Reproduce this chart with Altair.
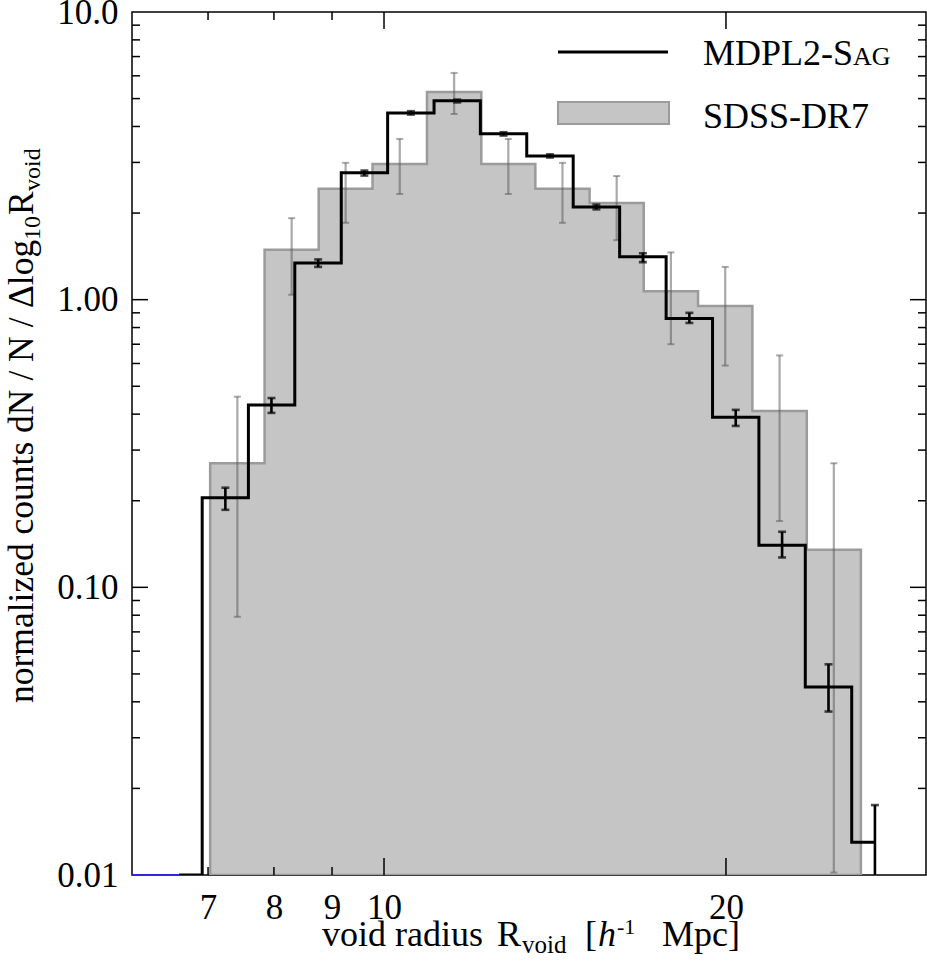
import math
import altair as alt
import pandas as pd

# ---------------------------------------------------------------------------
# Void size function: simulated (MDPL2-SAG) vs observed (SDSS-DR7)
# ---------------------------------------------------------------------------

# MDPL2-SAG: bin centres [h^-1 Mpc], normalised counts and 1-sigma range
mdpl2_r = [6.60, 7.25, 7.96, 8.75, 9.61, 10.56, 11.60, 12.74, 14.00,
           15.38, 16.90, 18.57, 20.40, 22.41, 24.62, 27.05]
mdpl2_n = [0.01, 0.205, 0.43, 1.34, 2.76, 4.46, 4.91, 3.77, 3.16,
           2.10, 1.41, 0.86, 0.39, 0.14, 0.045, 0.013]
mdpl2_lo = [None, 0.186, 0.404, 1.30, 2.70, 4.40, 4.85, 3.72, 3.12,
            2.06, 1.35, 0.83, 0.364, 0.127, 0.037, 0.005]
mdpl2_hi = [None, 0.222, 0.455, 1.38, 2.81, 4.52, 4.96, 3.82, 3.20,
            2.14, 1.45, 0.90, 0.414, 0.156, 0.054, 0.0175]

# SDSS-DR7: bin edges [h^-1 Mpc], normalised counts and 1-sigma range
sdss_edges = [7.03, 7.85, 8.76, 9.77, 10.91, 12.18, 13.59, 15.17,
              16.93, 18.90, 21.10, 23.56, 26.29]
sdss_n = [0.27, 1.49, 2.43, 2.96, 5.27, 2.96, 2.43, 2.17, 1.07, 0.95, 0.41, 0.135]
sdss_lo = [0.079, 1.04, 1.85, 2.33, 4.42, 2.33, 1.85, 1.61, 0.70, 0.59, 0.17, 0.0102]
sdss_hi = [0.46, 1.92, 2.99, 3.62, 6.14, 3.62, 2.99, 2.69, 1.46, 1.30, 0.64, 0.27]

# flat segment lying on the lower frame edge at small radii
floor_r = [6.0, 6.65]
floor_n = [0.01, 0.01]

# axis ticks
x_major = [10, 20]
x_minor = [7, 8, 9]
y_major = [0.1, 1.0]
y_minor = [m * d for d in (0.01, 0.1, 1.0) for m in range(2, 10)]
x_labels = [7, 8, 9, 10, 20]
y_labels = [0.01, 0.1, 1.0, 10.0]

W, H = 794, 863
SERIF = "Liberation Serif"
GREY_FILL = "#c5c5c5"
GREY_EDGE = "#9b9b9b"

xscale = alt.Scale(type="log", domain=[6, 30], nice=False)
yscale = alt.Scale(type="log", domain=[0.01, 10], nice=False)

x_axis = alt.Axis(values=x_labels, format="d", ticks=False, domain=False, grid=False,
                  labelFont=SERIF, labelFontSize=35, labelColor="black",
                  labelPadding=15, labelFlush=False, labelOverlap=False, title=None)
y_axis = alt.Axis(values=y_labels, ticks=False, domain=False, grid=False,
                  labelExpr="datum.value >= 10 ? '10.0' : format(datum.value, '.2f')",
                  labelFont=SERIF, labelFontSize=35, labelColor="black",
                  labelPadding=14, labelFlush=False, labelOverlap=False, title=None)


def X(field):
    return alt.X(f"{field}:Q", scale=xscale, axis=x_axis)


def Y(field):
    return alt.Y(f"{field}:Q", scale=yscale, axis=y_axis)


# ---------------------------------------------------------------------------
# tables
# ---------------------------------------------------------------------------
step_rows = [{"r": sdss_edges[i], "n": sdss_n[i], "base": 0.01} for i in range(len(sdss_n))]
step_rows.append({"r": sdss_edges[-1], "n": sdss_n[-1], "base": 0.01})
sdss_step = pd.DataFrame(step_rows)

sdss_err = pd.DataFrame({
    "r": [math.sqrt(sdss_edges[i] * sdss_edges[i + 1]) for i in range(len(sdss_n))],
    "lo": sdss_lo,
    "hi": sdss_hi,
})

mdpl2_line = pd.DataFrame({"r": mdpl2_r, "n": mdpl2_n})
mdpl2_err = pd.DataFrame({"r": mdpl2_r, "lo": mdpl2_lo, "hi": mdpl2_hi}).dropna()

floor_df = pd.DataFrame({"r": floor_r, "n": floor_n})

# ---------------------------------------------------------------------------
# data layers
# ---------------------------------------------------------------------------
sdss_area = alt.Chart(sdss_step).mark_area(
    interpolate="step-after", color=GREY_FILL, fillOpacity=1,
    stroke=GREY_EDGE, strokeWidth=2.5, clip=True,
).encode(x=X("r"), y=Y("n"), y2="base:Q")

ERR_GREY = dict(color="#555555", opacity=0.5, clip=True)
sdss_bars = alt.Chart(sdss_err).mark_rule(strokeWidth=2.2, **ERR_GREY).encode(
    x=X("r"), y=Y("lo"), y2="hi:Q"
)
sdss_cap_lo = alt.Chart(sdss_err).mark_tick(
    orient="horizontal", size=7, thickness=2, **ERR_GREY
).encode(x=X("r"), y=Y("lo"))
sdss_cap_hi = alt.Chart(sdss_err).mark_tick(
    orient="horizontal", size=7, thickness=2, **ERR_GREY
).encode(x=X("r"), y=Y("hi"))

floor_line = alt.Chart(floor_df).mark_line(color="#2b2bd6", strokeWidth=2, clip=True).encode(
    x=X("r"), y=Y("n")
)

mdpl2_step = alt.Chart(mdpl2_line).mark_line(
    interpolate="step", color="black", strokeWidth=3, clip=True
).encode(x=X("r"), y=Y("n"))

mdpl2_bars = alt.Chart(mdpl2_err).mark_rule(color="black", strokeWidth=2.6, clip=True).encode(
    x=X("r"), y=Y("lo"), y2="hi:Q"
)
mdpl2_cap_lo = alt.Chart(mdpl2_err).mark_tick(
    orient="horizontal", color="black", size=8, thickness=2.6, clip=True
).encode(x=X("r"), y=Y("lo"))
mdpl2_cap_hi = alt.Chart(mdpl2_err).mark_tick(
    orient="horizontal", color="black", size=8, thickness=2.6, clip=True
).encode(x=X("r"), y=Y("hi"))


# ---------------------------------------------------------------------------
# inward-pointing ticks on all four sides
# ---------------------------------------------------------------------------
def x_ticks(vals, length, top):
    y0 = 0 if top else H
    y1 = length if top else H - length
    return alt.Chart(pd.DataFrame({"r": vals})).mark_rule(color="black", strokeWidth=1.5).encode(
        x=X("r"), y=alt.value(y0), y2=alt.value(y1)
    )


def y_ticks(vals, length, right):
    x0 = W if right else 0
    x1 = W - length if right else length
    return alt.Chart(pd.DataFrame({"n": vals})).mark_rule(color="black", strokeWidth=1.5).encode(
        y=Y("n"), x=alt.value(x0), x2=alt.value(x1)
    )


tick_layers = [
    x_ticks(x_major, 17, False), x_ticks(x_minor, 8, False),
    x_ticks(x_major, 17, True), x_ticks(x_minor, 8, True),
    y_ticks(y_major, 16, False), y_ticks(y_minor, 8, False),
    y_ticks(y_major, 16, True), y_ticks(y_minor, 8, True),
]

# ---------------------------------------------------------------------------
# titles and legend (rich text built from pieces)
# ---------------------------------------------------------------------------
one = pd.DataFrame({"k": [0]})


def label(text, x, y, size, angle=0, style="normal"):
    return alt.Chart(one).mark_text(
        text=text, align="left", baseline="alphabetic", font=SERIF,
        fontSize=size, fontStyle=style, angle=angle, color="black",
    ).encode(x=alt.value(x), y=alt.value(y))


x_title = [
    label("void radius", 190, 934, 36),
    label("R", 365, 934, 36),
    label("void", 390, 941, 25),
    label("[", 453, 934, 36),
    label("h", 466, 934, 36, style="italic"),
    label("-1", 485, 922, 22),
    label("Mpc]", 530, 934, 36),
]

y_title = [
    label("normalized counts dN / N /", -99, 691, 35.5, angle=270),
    label("\u0394log", -99, 296, 35.5, angle=270),
    label("10", -92, 228, 24, angle=270),
    label("R", -99, 203, 35.5, angle=270),
    label("void", -92, 179, 24, angle=270),
]

legend = [
    alt.Chart(one).mark_rule(color="black", strokeWidth=3).encode(
        x=alt.value(426), x2=alt.value(536), y=alt.value(40)
    ),
    alt.Chart(one).mark_rect(color=GREY_FILL, stroke=GREY_EDGE, strokeWidth=2).encode(
        x=alt.value(426), x2=alt.value(537), y=alt.value(90), y2=alt.value(112)
    ),
    label("MDPL2-S", 571, 53, 36),
    label("AG", 721, 53, 26),
    label("SDSS-DR7", 571, 116, 36),
]

chart = alt.layer(
    sdss_area, sdss_bars, sdss_cap_lo, sdss_cap_hi,
    floor_line,
    mdpl2_step, mdpl2_bars, mdpl2_cap_lo, mdpl2_cap_hi,
    *tick_layers, *x_title, *y_title, *legend,
).properties(
    width=W,
    height=H,
    autosize=alt.AutoSizeParams(type="none"),
    padding={"left": 132, "top": 12, "right": 1, "bottom": 94},
    background="white",
).configure_view(
    stroke="black", strokeWidth=1.5
)

chart.save("out.html", embed_options={"renderer": "svg", "actions": False})
